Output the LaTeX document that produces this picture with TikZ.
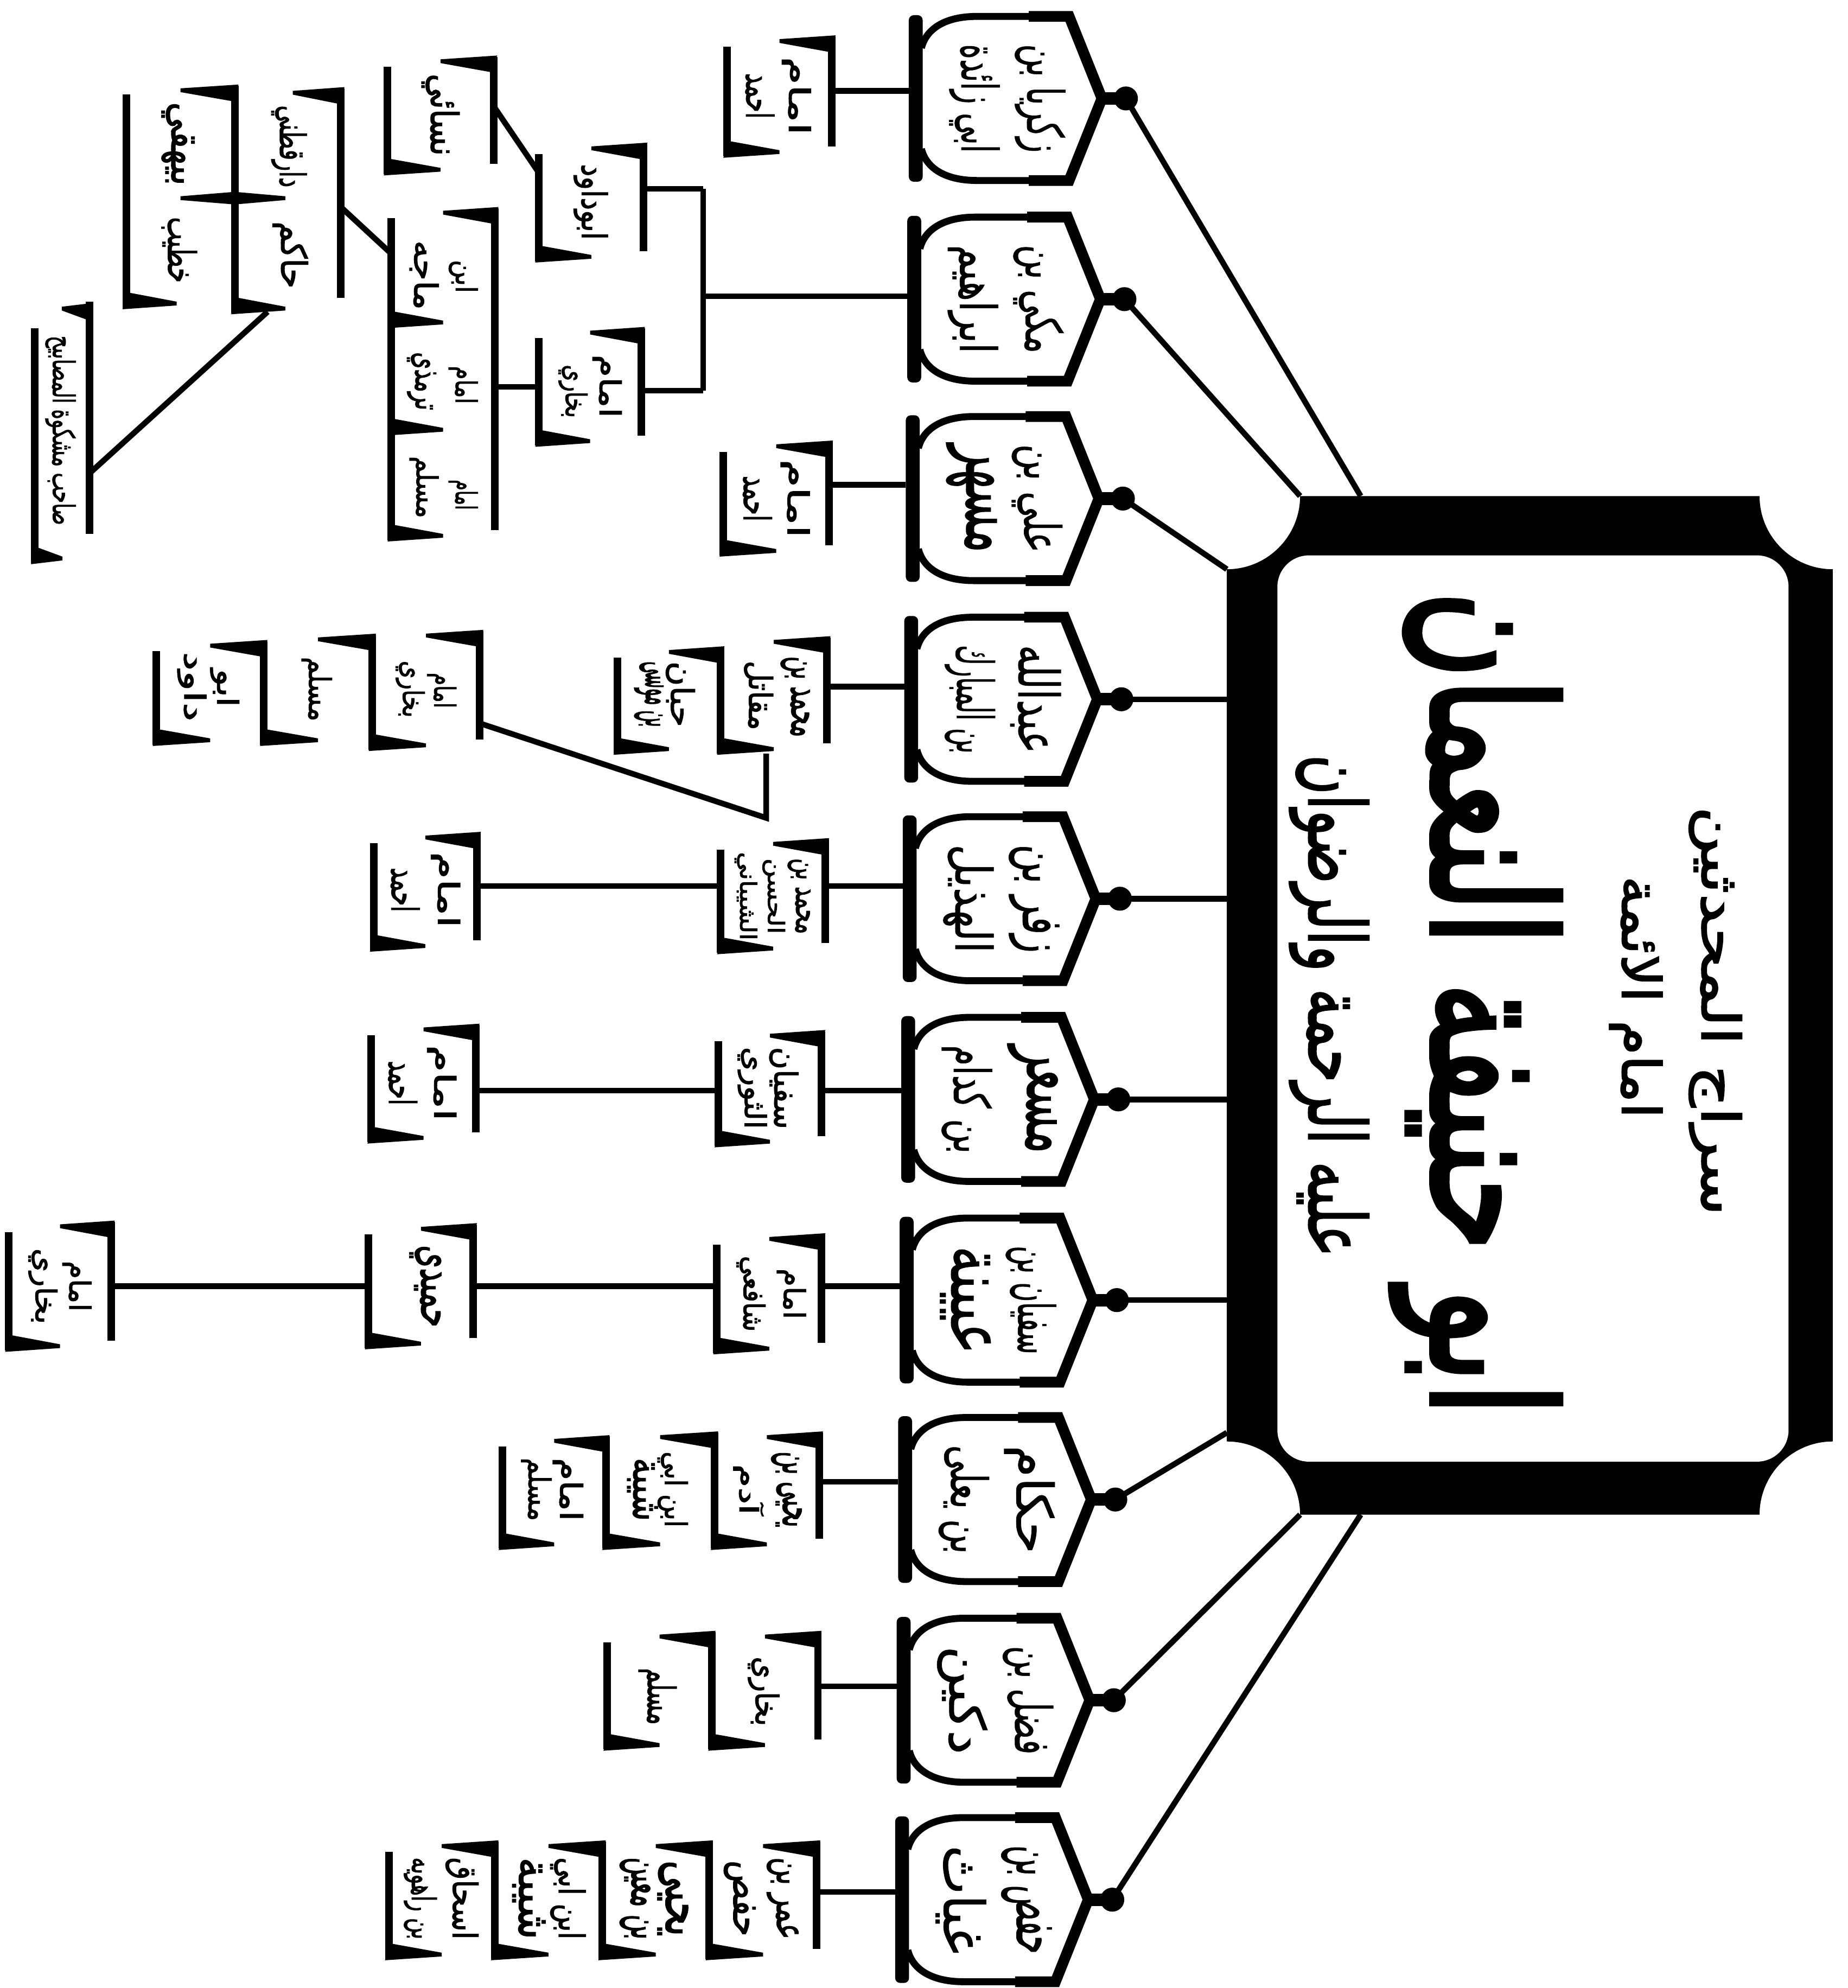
\documentclass[tikz,border=0pt]{standalone}
\usepackage{fontspec}
\usepackage{graphicx}
\newfontfamily\arfont[Script=Arabic,FakeBold=2]{DejaVu Sans}
\newfontfamily\arfontL[Script=Arabic,FakeBold=0.8]{DejaVu Sans}
\newfontfamily\arfontH[Script=Arabic,FakeBold=3]{DejaVu Sans}
\TeXXeTstate=1
\newcommand\RL[1]{\beginR #1\endR}
\newcommand\AT[3]{\resizebox*{#1}{#2}{\arfont\RL{#3}}}
\newcommand\ATL[3]{\resizebox*{#1}{#2}{\arfontL\RL{#3}}}
\newcommand\ATH[3]{\resizebox*{#1}{#2}{\arfontH\RL{#3}}}
\newcommand\bt[2]{\resizebox*{#1}{2.3mm}{\arfont\RL{#2}}}
\newcommand\btt[3]{\resizebox*{#1}{#2}{\arfont\RL{#3}}}
% vertical bar x, y1, y2
\newcommand\vbar[3]{\fill ({#1-3},{#2}) rectangle ({#1+3},{#3});}
% wedge from bar pointing left (thick part below y)
\newcommand\wdgL[3]{\fill ({#1+3},{#2-1}) -- ({#1-#3},{#2+2}) -- ({#1-#3},{#2+5}) -- ({#1-3},{#2+12}) -- cycle;}
% wedge from bar pointing right (thick part above y)
\newcommand\wdgR[3]{\fill ({#1-3},{#2+1}) -- ({#1+#3},{#2-2}) -- ({#1+#3},{#2-5}) -- ({#1+3},{#2-12}) -- cycle;}
% bracket box L R T B
\newcommand\bx[4]{%
  \pgfmathsetmacro\bxw{0.5*(#2-#1)}%
  \vbar{#2}{#3}{#4-8}\wdgL{#2}{#3}{\bxw}%
  \vbar{#1}{#3+8}{#4}\wdgR{#1}{#4}{\bxw}}
% vase: name, x0, cy, line1, line2
\newcommand\vase[5]{%
  \fill[rounded corners=0.4mm] ({#2},{#3-66}) rectangle ({#2+11},{#3+66});
  \draw[line width=0.55mm,line join=round] ({#2+10},{#3-40}) .. controls ({#2+14},{#3-56}) and ({#2+30},{#3-65}) .. ({#2+54},{#3-65}) -- ({#2+127},{#3-65}) -- ({#2+153},{#3}) -- ({#2+127},{#3+65}) -- ({#2+54},{#3+65}) .. controls ({#2+30},{#3+65}) and ({#2+14},{#3+56}) .. ({#2+10},{#3+40});
  \draw[line width=0.85mm,line join=miter] ({#2+95},{#3-65}) -- ({#2+127},{#3-65}) -- ({#2+153},{#3}) -- ({#2+127},{#3+65}) -- ({#2+95},{#3+65});
  \draw[line width=1.0mm] ({#2+150},{#3}) -- ({#2+172},{#3});
  \fill ({#2+172},{#3}) circle[radius=0.95mm];
  \coordinate (#1-dot) at ({#2+172},{#3});
  \coordinate (#1-bar) at ({#2},{#3});
  \node[vt] (#1-t1) at ({#2+104},{#3}) {\ATL{8.6mm}{4.0mm}{#4}};
  \node[vt] (#1-t2) at ({#2+52},{#3}) {\ATL{8.6mm}{4.0mm}{#5}};}
\begin{document}
\begin{tikzpicture}[x=0.1mm,y=-0.1mm]
\tikzset{conn/.style={line width=0.45mm},vt/.style={rotate=-90,inner sep=0pt,outer sep=0pt}}
\useasboundingbox (0,0) rectangle (1464,1575);
\fill[white] (0,0) rectangle (1464,1575);
% ---------------- central frame
\fill (1030,393) -- (1394,393) .. controls (1394,425) and (1420,451) .. (1452,451) -- (1452,1142) .. controls (1420,1142) and (1394,1168) .. (1394,1200) -- (1030,1200) .. controls (1030,1168) and (1004,1142) .. (972,1142) -- (972,451) .. controls (1004,451) and (1030,425) .. (1030,393) -- cycle;
\fill[white,rounded corners=2.5mm] (1012,440) rectangle (1417,1158);
\node[vt] (t1) at (1359,801) {\AT{32.4mm}{4.2mm}{سراج المحدثين}};
\node[vt] (t2) at (1296,790) {\AT{19.2mm}{4.2mm}{امام الائمة}};
\node[vt] (t3) at (1169,795) {\ATH{65.3mm}{13.5mm}{ابو حنيفة النعمان}};
\node[vt] (t4) at (1053,797) {\AT{39.8mm}{6.3mm}{عليه الرحمة والرضوان}};
\coordinate (e1) at (1078,393);
\coordinate (e2) at (1030,393);
\coordinate (e3) at (972,451);
\coordinate (eW) at (972,800);
\coordinate (e8) at (972,1135);
\coordinate (e9) at (1030,1200);
\coordinate (e10) at (1078,1200);
% ---------------- vases
\vase{v1}{720}{78}{زكريا بن}{ابي زائدة}
\vase{v2}{718.8}{237}{مكي بن}{ابراهيم}
\vase{v3}{717.6}{395}{علي بن}{مسهر}
\vase{v4}{716.4}{554}{عبدالله}{بن المبارك}
\vase{v5}{715.2}{712}{زفر بن}{الهذيل}
\vase{v6}{714}{871}{مسعر}{بن كدام}
\vase{v7}{712.8}{1030}{سفيان بن}{عيينة}
\vase{v8}{711.6}{1188}{حكام}{بن يعلى}
\vase{v9}{710.4}{1347}{فضل بن}{دكين}
\vase{v10}{709.2}{1505}{حفص بن}{غياث}
\draw[conn] (v1-dot) -- (e1);
\draw[conn] (v2-dot) -- (e2);
\draw[conn] (v3-dot) -- (e3);
\draw[conn] (v4-dot) -- (v4-dot -| eW);
\draw[conn] (v5-dot) -- (v5-dot -| eW);
\draw[conn] (v6-dot) -- (v6-dot -| eW);
\draw[conn] (v7-dot) -- (v7-dot -| eW);
\draw[conn] (v8-dot) -- (e8);
\draw[conn] (v9-dot) -- (e9);
\draw[conn] (v10-dot) -- (e10);
% ---------------- row 1
\bx{576}{659}{29}{124}
\node[vt] (b1a) at (631,76) {\bt{6.2mm}{امام}};
\node[vt] (b1b) at (602,76) {\bt{3.6mm}{احمد}};
\coordinate (b1R) at (659,72);
\draw[conn] (b1R) -- (b1R -| v1-bar);
% ---------------- row 2
\bx{427}{510}{114}{207}
\node[vt] (b2u) at (468,160) {\btt{6mm}{2.7mm}{ابوداود}};
\bx{427}{508}{260}{353}
\node[vt] (b2la) at (481,306) {\bt{5mm}{امام}};
\node[vt] (b2lb) at (454,310) {\bt{4.2mm}{بخاري}};
\coordinate (j2) at (557,234.6);
\coordinate (j2t) at (557,149.7);
\coordinate (j2b) at (557,309.4);
\coordinate (b2uR) at (510,149.7);
\coordinate (b2lR) at (508,309.4);
\coordinate (b2lL) at (427,306.6);
\draw[conn] (j2 -| v2-bar) -- (j2);
\draw[conn] (j2t) -- (j2b);
\draw[conn] (j2t) -- (b2uR);
\draw[conn] (j2b) -- (b2lR);
% box A
\bx{307}{391}{45}{138}
\node[vt] (bA) at (349,91) {\btt{6.5mm}{3mm}{نسائي}};
\coordinate (bAR) at (391,84);
\coordinate (b2uL) at (427,137);
\draw[conn] (bAR) -- (b2uL);
% three-cell box
\vbar{392}{165}{420}\wdgL{392}{165}{41}
\vbar{310}{173}{428}\wdgR{310}{259}{41}\wdgR{310}{344}{41}\wdgR{310}{428}{41}
\node[vt] (c1a) at (367,219) {\bt{2.6mm}{ابن}};
\node[vt] (c1b) at (336,218) {\bt{5.5mm}{ماجه}};
\node[vt] (c2a) at (367,305) {\bt{3mm}{امام}};
\node[vt] (c2b) at (334,302) {\bt{4.6mm}{ترمذي}};
\node[vt] (c3a) at (367,392) {\bt{2.4mm}{امام}};
\node[vt] (c3b) at (336,386) {\bt{4.9mm}{مسلم}};
\coordinate (c3R) at (392,306.6);
\coordinate (c3L) at (310,201);
\draw[conn] (b2lL) -- (c3R);
% 2x2 grid
\vbar{270}{70}{236}\wdgL{270}{70}{38}
\vbar{186}{68}{248}\wdgL{186}{68}{43}\wdgR{186}{248}{40}
\fill (143,155.5) -- (186,152) -- (226,155.5) -- (226,158.5) -- (186,162) -- (143,158.5) -- cycle;
\vbar{100}{75}{244}\wdgR{100}{244}{40}
\node[vt] (g1) at (229,116) {\btt{6.5mm}{2.8mm}{دارقطني}};
\node[vt] (g2) at (230,202) {\btt{5.3mm}{2.8mm}{حاكم}};
\node[vt] (g3) at (141,114) {\btt{6.6mm}{2.6mm}{بيهقي}};
\node[vt] (g4) at (142,198) {\btt{5.2mm}{2.8mm}{خطيب}};
\coordinate (gR) at (270,164);
\coordinate (gB) at (212,247);
\draw[conn] (c3L) -- (gR);
% long box
\vbar{71}{239}{423}\wdgL{71}{241}{22}
\vbar{27.5}{260}{446}\wdgR{27.5}{446}{22}
\node[vt] (lg) at (48,341) {\btt{15mm}{2.4mm}{صاحب مشكوة المصابيح}};
\coordinate (lgR) at (72,374);
\draw[conn] (gB) -- (lgR);
% ---------------- row 3
\bx{573}{657}{350}{440}
\node[vt] (b3a) at (630,395) {\bt{6.2mm}{امام}};
\node[vt] (b3b) at (600,395) {\bt{3.6mm}{احمد}};
\coordinate (b3R) at (657,384);
\draw[conn] (b3R) -- (b3R -| v3-bar);
% ---------------- row 4
\bx{571}{655}{505}{597}
\bx{489}{571}{513}{597}
\node[vt] (r1a) at (630,552) {\bt{6.4mm}{محمد بن}};
\node[vt] (r1b) at (601,551) {\bt{5.5mm}{مقاتل}};
\node[vt] (r2a) at (539,550) {\bt{5.2mm}{حبان}};
\node[vt] (r2b) at (514,550) {\bt{5.2mm}{بن موسى}};
\coordinate (b4R) at (655,544);
\draw[conn] (b4R) -- (b4R -| v4-bar);
\coordinate (r1B) at (607,597);
\coordinate (r1K) at (607,648);
\coordinate (l3R) at (380,573);
\draw[conn] (r1B) -- (r1K) -- (l3R);
\bx{295}{380}{500}{594}
\node[vt] (l3a) at (350,547) {\bt{2.8mm}{امام}};
\node[vt] (l3b) at (325,546) {\bt{4.5mm}{بخاري}};
\bx{209}{295}{503}{590}
\node[vt] (l2) at (251,546) {\btt{5.1mm}{2.4mm}{مسلم}};
\bx{124}{209}{508}{590}
\node[vt] (l1a) at (178,545) {\bt{3mm}{ابو}};
\node[vt] (l1b) at (152,544) {\bt{5.5mm}{داود}};
% ---------------- row 5
\bx{571}{654}{665}{755}
\node[vt] (m5a) at (633,710) {\btt{6mm}{1.8mm}{محمد بن}};
\node[vt] (m5b) at (613,710) {\btt{6mm}{1.8mm}{الحسن}};
\node[vt] (m5c) at (591,710) {\btt{7mm}{1.8mm}{الشيباني}};
\bx{296}{378}{660}{753}
\node[vt] (f5a) at (353,705) {\bt{6mm}{امام}};
\node[vt] (f5b) at (321,705) {\bt{3.5mm}{احمد}};
\coordinate (m5R) at (654,702);
\coordinate (m5L) at (571,702);
\coordinate (f5R) at (378,702);
\draw[conn] (m5R) -- (m5R -| v5-bar);
\draw[conn] (m5L) -- (f5R);
% ---------------- row 6
\bx{569}{651}{817}{908}
\node[vt] (m6a) at (621,862) {\bt{6.5mm}{سفيان}};
\node[vt] (m6b) at (596,862) {\bt{6.5mm}{الثوري}};
\bx{294}{377}{812}{905}
\node[vt] (f6a) at (350,858) {\bt{6mm}{امام}};
\node[vt] (f6b) at (319,858) {\bt{3.5mm}{احمد}};
\coordinate (m6R) at (651,864);
\coordinate (m6L) at (569,864);
\coordinate (f6R) at (377,864);
\draw[conn] (m6R) -- (m6R -| v6-bar);
\draw[conn] (m6L) -- (f6R);
% ---------------- row 7
\bx{568}{651}{978}{1072}
\node[vt] (m7a) at (627,1025) {\bt{4mm}{امام}};
\node[vt] (m7b) at (595,1025) {\bt{6mm}{شافعي}};
\bx{292}{375}{970}{1068}
\node[vt] (m7c) at (337,1019) {\btt{6.5mm}{2.5mm}{حميدي}};
\bx{7}{88}{968}{1070}
\node[vt] (f7a) at (61,1019) {\bt{4mm}{امام}};
\node[vt] (f7b) at (34,1019) {\bt{6mm}{بخاري}};
\coordinate (m7R) at (651,1019);
\coordinate (m7L) at (568,1019);
\coordinate (n7R) at (375,1019);
\coordinate (n7L) at (292,1019);
\coordinate (f7R) at (88,1019);
\draw[conn] (m7R) -- (m7R -| v7-bar);
\draw[conn] (m7L) -- (n7R);
\draw[conn] (n7L) -- (f7R);
% ---------------- row 8
\bx{566}{649}{1135}{1227}
\bx{480}{566}{1135}{1227}
\bx{398}{480}{1138}{1227}
\node[vt] (p1a) at (623,1180) {\btt{6mm}{2.4mm}{يحيى بن}};
\node[vt] (p1b) at (593,1180) {\btt{4mm}{2.4mm}{آدم}};
\node[vt] (p2a) at (533,1180) {\btt{6mm}{2.4mm}{ابن ابي}};
\node[vt] (p2b) at (509,1180) {\btt{5mm}{2.4mm}{شيبة}};
\node[vt] (p3a) at (450,1180) {\btt{5mm}{2.4mm}{امام}};
\node[vt] (p3b) at (425,1180) {\btt{5mm}{2.4mm}{مسلم}};
\coordinate (p1R) at (649,1174);
\draw[conn] (p1R) -- (p1R -| v8-bar);
% ---------------- row 9
\bx{564}{648}{1293}{1386}
\bx{481}{564}{1293}{1386}
\node[vt] (q1) at (605,1340) {\btt{5.5mm}{2.5mm}{بخاري}};
\node[vt] (q2) at (521,1344) {\btt{4.5mm}{3mm}{مسلم}};
\coordinate (q1R) at (648,1336);
\draw[conn] (q1R) -- (q1R -| v9-bar);
% ---------------- row 10
\bx{562}{647}{1459}{1552}
\bx{477}{562}{1459}{1552}
\bx{392}{477}{1459}{1552}
\bx{308}{392}{1459}{1552}
\node[vt] (s1a) at (620,1504) {\btt{6.5mm}{2.5mm}{عمر بن}};
\node[vt] (s1b) at (586,1504) {\btt{6mm}{2.5mm}{حفص}};
\node[vt] (s2a) at (533,1504) {\btt{6mm}{2.4mm}{يحيى}};
\node[vt] (s2b) at (503,1504) {\btt{6.5mm}{2.4mm}{بن معين}};
\node[vt] (s3a) at (450,1504) {\btt{6.5mm}{2.8mm}{ابن ابي}};
\node[vt] (s3b) at (419,1504) {\btt{6.5mm}{2.6mm}{شيبة}};
\node[vt] (s4a) at (366,1504) {\btt{6.5mm}{2.6mm}{اسحاق}};
\node[vt] (s4b) at (333,1504) {\btt{6.5mm}{2.6mm}{بن راهويه}};
\coordinate (s1R) at (647,1499);
\draw[conn] (s1R) -- (s1R -| v10-bar);
\end{tikzpicture}
\end{document}
